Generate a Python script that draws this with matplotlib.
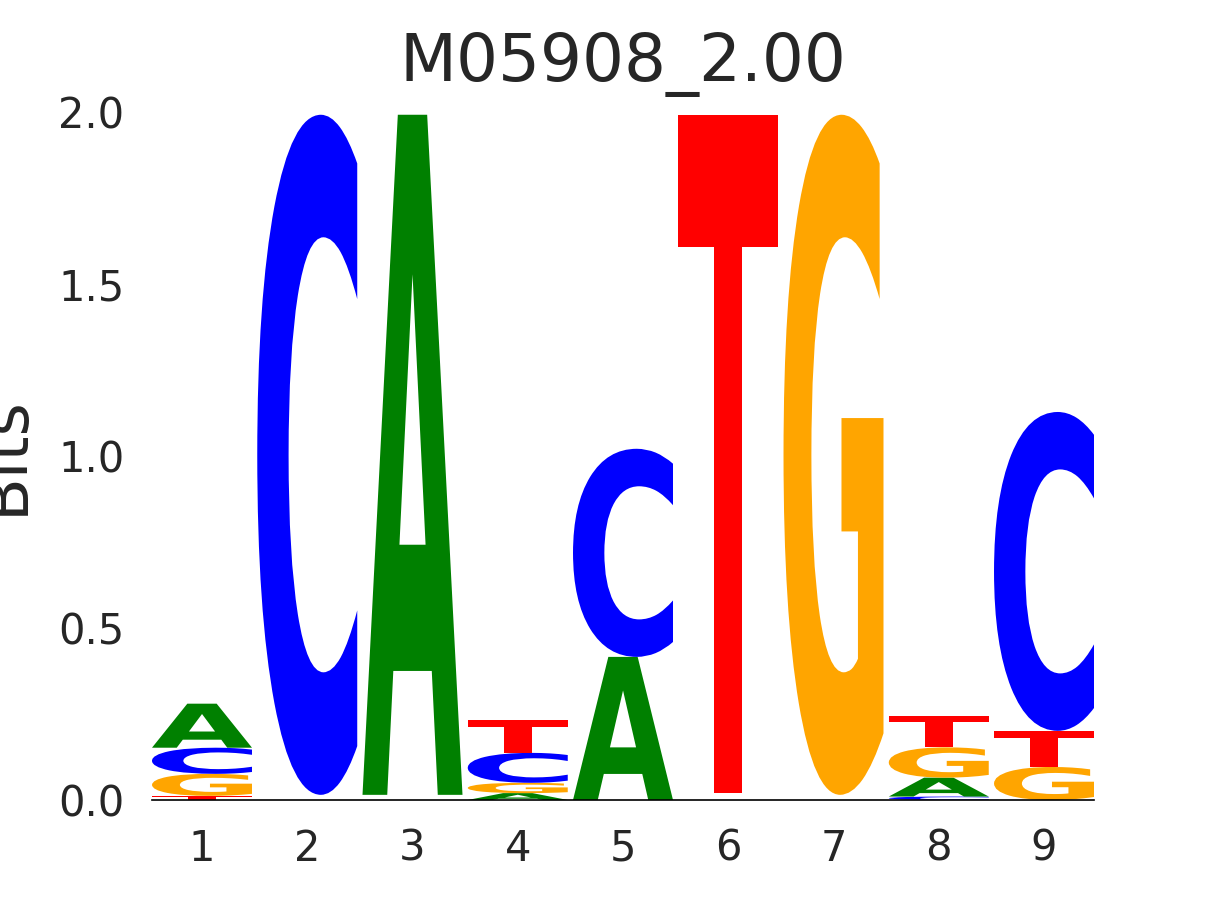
import matplotlib
matplotlib.use("Agg")
import matplotlib.pyplot as plt
from matplotlib.textpath import TextPath
from matplotlib.patches import PathPatch
from matplotlib.font_manager import FontProperties
from matplotlib.transforms import Affine2D

title = "M05908_2.00"
positions = [1, 2, 3, 4, 5, 6, 7, 8, 9]
A_bits = [0.128, 0.005, 1.977, 0.020, 0.416, 0.007, 0.005, 0.055, 0.0]
C_bits = [0.076, 1.977, 0.005, 0.087, 0.605, 0.006, 0.005, 0.010, 0.927]
G_bits = [0.064, 0.004, 0.005, 0.030, 0.0, 0.007, 1.977, 0.088, 0.096]
T_bits = [0.012, 0.006, 0.005, 0.095, 0.0, 1.971, 0.005, 0.090, 0.105]
yticks = [0.0, 0.5, 1.0, 1.5, 2.0]

colors = {"A": "#008000", "C": "#0000ff", "G": "#ffa500", "T": "#ff0000"}
text_color = "#262626"

fig = plt.figure(figsize=(12.15, 9), dpi=100)
ax = fig.add_axes([152 / 1215, 100 / 900, 942 / 1215, 688 / 900])

fp = FontProperties(family="DejaVu Sans", weight="bold")
glyph_w = 0.95
min_visible = 0.009  # glyphs thinner than this are not visible in the logo


def draw_glyph(ax, ch, x, bottom, height, color):
    if height < min_visible:
        return
    tp = TextPath((0, 0), ch, size=1, prop=fp)
    ext = tp.get_extents()
    tr = (Affine2D()
          .translate(-ext.x0, -ext.y0)
          .scale(glyph_w / ext.width, height / ext.height)
          .translate(x - glyph_w / 2, bottom))
    path = tr.transform_path(tp)
    ax.add_patch(PathPatch(path, facecolor=color, edgecolor="none", lw=0))


for i, pos in enumerate(positions):
    vals = {"A": A_bits[i], "C": C_bits[i], "G": G_bits[i], "T": T_bits[i]}
    order = sorted(vals.items(), key=lambda kv: kv[1])
    bottom = 0.0
    for ch, h in order:
        draw_glyph(ax, ch, pos, bottom, h, colors[ch])
        bottom += h

ax.set_xlim(positions[0] - glyph_w / 2, positions[-1] + glyph_w / 2)
ax.set_ylim(0, 2.0)
ax.set_xticks(positions)
ax.set_xticklabels([str(p) for p in positions])
ax.set_yticks(yticks)
ax.set_yticklabels([f"{v:.1f}" for v in yticks])
ax.tick_params(axis="both", length=0, labelsize=30, colors=text_color, pad=20)
for s in ["top", "right", "left"]:
    ax.spines[s].set_visible(False)
ax.spines["bottom"].set_color("black")
ax.spines["bottom"].set_linewidth(1.2)
ax.set_facecolor("white")

ax.set_title(title, fontsize=47.5, color=text_color, pad=22)
ax.set_ylabel("Bits", fontsize=46, color=text_color)
ax.yaxis.set_label_coords(-0.123, 0.502)

fig.savefig("out.png", dpi=100, facecolor="white")
